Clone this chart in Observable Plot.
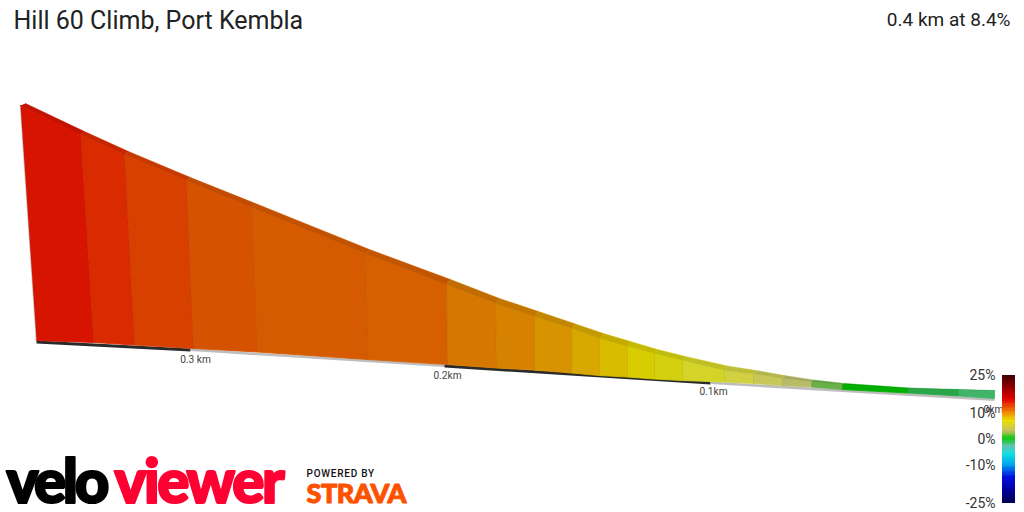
<!DOCTYPE html>
<html><head><meta charset="utf-8">
<script src="https://cdn.jsdelivr.net/npm/d3@7"></script>
<script src="https://cdn.jsdelivr.net/npm/@observablehq/plot@0.6"></script>
<style>
html,body{margin:0;padding:0;background:#fff;overflow:hidden}
#wrap{position:relative;width:1024px;height:512px}
#wrap svg{position:absolute;display:block}
.velo text{letter-spacing:-3.4px}
.view text{letter-spacing:-2.4px}
.pow text{letter-spacing:.75px}
.str text{letter-spacing:-.5px}
</style></head><body><div id="wrap"></div>
<script>
// Scene coordinates
const faceTopX=[20,80,124,186,251,365,446,495,534,571,599,627,654,682,724,753,782,811,842,907,958,994];
const faceTopY=[105,134,154,180,207,253,284,303,316,328,338,346,353,360,370,373.5,378,381.5,384,388.5,389.5,390.5];
const ridgeX=[25,84,128,190,255,369,450,499,538,575,603,630,657,685,727,756,784,813,844,909,959,994.5];
const ridgeY=[103,131,151,177,203,249,279,298,311,323.5,333,341,349,356,365.5,370,375,379.5,383,387.5,389,390];
const baseX=[36,93,134,193,257,367,447,496,534,571,599,627,654,682,724,753,782,811,842,907,958,994];
const baseY=[340,342,344.5,348,351.5,359,364,367.5,369.5,372.5,375,376.5,378.5,380,381.5,383,385,386.5,389,392.5,395.5,398];
const segmentGrades=[15,14,13,12,11.5,11,10.5,10,9.5,9,8.5,8,7.5,7,5.5,4.5,3.5,1.5,0,-0.5,-1];
const kmLabels=["0.3 km","0.2km","0.1km","0km"];
const kmX=[195,447,713,993];
const kmY=[359,375,391,409];
const bandX=[36,190,444,710,994];
const bandY=[340,348,364,381,398];
const legendStops=[25,20,15.5,11,7,3,0,-3,-6,-10,-15,-20,-25];
const legendTicks=[25,10,0,-10,-25];

// Styles
const faceColors=["#d61400","#d92a00","#d84000","#d55300","#d65a00","#d65f00","#d57700","#d68200","#d79400","#d8a800","#d9bb00","#d8cd00","#d4d010","#d4d428","#d0d040","#c8c858","#b8bc68","#68b048","#00b000","#28a648","#40b468"];
const legendColors=["#380000","#900000","#e00000","#f07000","#ece000","#c8c060","#10c810","#60c4b4","#10e0e0","#00a8f0","#0010e0","#0000a0","#000050"];
const font="Roboto";

const poly=(ax,ay,bx,by)=>segmentGrades.flatMap((g,i)=>[
  {g,x:ax[i],y:ay[i]},{g,x:ax[i+1],y:ay[i+1]},{g,x:bx[i+1],y:by[i+1]},{g,x:bx[i],y:by[i]}]);
const faces=poly(faceTopX,faceTopY,baseX,baseY);
const ridges=poly(ridgeX,ridgeY,faceTopX,faceTopY);
const bands=d3.range(bandX.length-1).flatMap(i=>{
  const k=i%2?"#bdbdbd":"#2a2a2a";
  const t=i%2?2.6:3;
  return [{i,k,x:bandX[i],y:bandY[i]},{i,k,x:bandX[i+1],y:bandY[i+1]},{i,k,x:bandX[i+1],y:bandY[i+1]+t},{i,k,x:bandX[i],y:bandY[i]+t}];
});
const seams=faceTopX.map((x,i)=>({x1:x,y1:faceTopY[i],x2:baseX[i],y2:baseY[i]}));
const kmRows=kmLabels.map((t,i)=>({t,x:kmX[i],y:kmY[i]}));

const main=Plot.plot({
  width:1024,height:512,margin:0,
  x:{domain:[0,1024],range:[0,1024],axis:null},
  y:{domain:[0,512],range:[0,512],axis:null},
  color:{type:"ordinal",domain:segmentGrades,range:faceColors},
  style:{background:"transparent"},
  marks:[
    Plot.line(bands,{x:"x",y:"y",z:"i",fill:d=>d.k,stroke:null}),
    Plot.link([{x1:faceTopX[0],y1:faceTopY[0],x2:baseX[0],y2:baseY[0]}],{x1:"x1",y1:"y1",x2:"x2",y2:"y2",stroke:"#c8c8c8",strokeWidth:1.6}),
    Plot.line(faces,{x:"x",y:"y",z:"g",fill:"g",stroke:"g",strokeWidth:0.9}),
    Plot.line(ridges,{x:"x",y:"y",z:"g",fill:"g",stroke:"g",strokeWidth:0.5}),
    Plot.line(ridges,{x:"x",y:"y",z:"g",fill:"#000",fillOpacity:0.09,stroke:null}),
    Plot.link(seams.slice(1,-1),{x1:"x1",y1:"y1",x2:"x2",y2:"y2",stroke:"#000",strokeOpacity:0.07,strokeWidth:1}),
    Plot.text(kmRows,{x:"x",y:"y",text:"t",fontSize:10.2,fontFamily:font,fill:"#444"}),
    Plot.text(["Hill 60 Climb, Port Kembla"],{x:()=>13,y:()=>20,text:d=>d,textAnchor:"start",fontSize:25,fontFamily:font,fill:"#222"}),
    Plot.text(["0.4 km at 8.4%"],{x:()=>1010,y:()=>19,text:d=>d,textAnchor:"end",fontSize:19,fontFamily:font,fill:"#222"}),
    Plot.text(["velo"],{x:()=>6,y:()=>502,text:d=>d,textAnchor:"start",lineAnchor:"bottom",fontSize:60,fontWeight:900,fontFamily:"Lato",fill:"#000",stroke:"#000",strokeWidth:2.2,className:"velo"}),
    Plot.text(["viewer"],{x:()=>114,y:()=>502,text:d=>d,textAnchor:"start",lineAnchor:"bottom",fontSize:60,fontWeight:900,fontFamily:"Lato",fill:"#ff0033",stroke:"#ff0033",strokeWidth:2.2,className:"view"}),
    Plot.text(["POWERED BY"],{x:()=>306,y:()=>473,text:d=>d,textAnchor:"start",fontSize:10,fontWeight:500,fontFamily:font,fill:"#111",className:"pow"}),
    Plot.text(["STRAVA"],{x:()=>306,y:()=>494,text:d=>d,textAnchor:"start",fontSize:27,fontWeight:900,fontFamily:"Lato",fill:"#fc5200",stroke:"#fc5200",strokeWidth:1,className:"str"})
  ]
});
main.style.left="0";main.style.top="0";
document.getElementById("wrap").append(main);

const legendRows=d3.range(-25,25,0.5);
const legend=Plot.plot({
  width:64,height:147,marginLeft:42,marginRight:9,marginTop:10,marginBottom:9,
  x:{domain:[0,1],axis:null},
  y:{domain:[-25,25],ticks:legendTicks,tickFormat:d=>d+"%",label:null},
  color:{type:"linear",domain:[...legendStops].reverse(),range:[...legendColors].reverse()},
  style:{background:"transparent",fontFamily:font,fontSize:"14px",color:"#333",overflow:"visible"},
  marks:[
    Plot.rect(legendRows,{x1:()=>0,x2:()=>1,y1:d=>d,y2:d=>d+0.5,fill:d=>d,shapeRendering:"crispEdges"}),
    Plot.axisY(legendTicks,{tickSize:0,tickPadding:7,tickFormat:d=>d+"%",label:null,fontSize:14})
  ]
});
legend.style.left="960px";legend.style.top="365px";
document.getElementById("wrap").append(legend);
</script></body></html>
